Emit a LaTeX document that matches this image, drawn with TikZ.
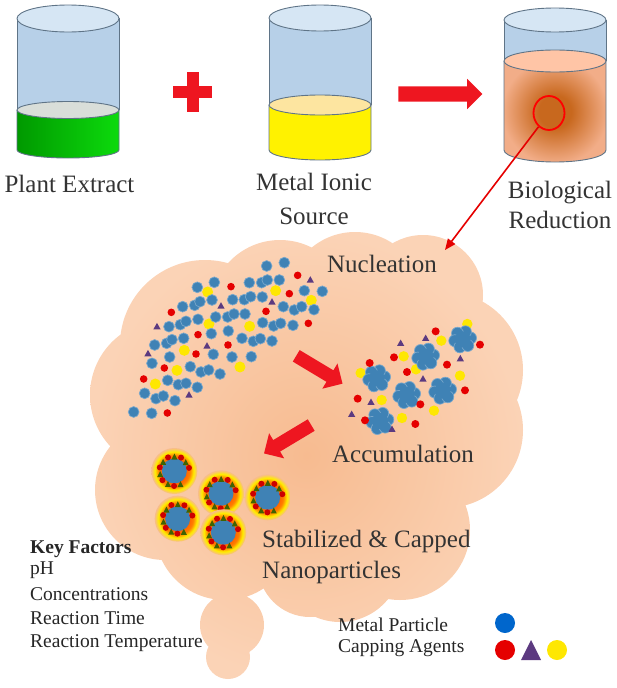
\documentclass[tikz,border=0pt]{standalone}
\usepackage{fontspec}
\setmainfont{Liberation Serif}
\usetikzlibrary{shapes.arrows,shapes.geometric,arrows.meta}

\definecolor{metalblue}{HTML}{3F82B5}
\definecolor{cloudin}{HTML}{F7BB90}
\definecolor{cloudout}{HTML}{FBD3B6}
\definecolor{glasscol}{HTML}{B7D0E8}
\definecolor{rimcol}{HTML}{D6E6F4}
\definecolor{edgecol}{HTML}{5F7487}
\definecolor{arrowred}{HTML}{EE1620}
\definecolor{trianglecol}{HTML}{5C3A80}
\definecolor{liquidin}{HTML}{C8681E}
\definecolor{liquidout}{HTML}{F2AD88}
\pgfdeclareradialshading{capglow}{\pgfpoint{0bp}{0bp}}{color(0bp)=(orange!80!red); color(13bp)=(orange!80!red); color(17bp)=(orange); color(21bp)=(yellow!85!orange); color(25bp)=(cloudin); color(50bp)=(cloudin)}
\pgfdeclareradialshading{liquidglow}{\pgfpoint{0bp}{0bp}}{color(0bp)=(liquidin); color(8bp)=(liquidin); color(26bp)=(liquidout); color(50bp)=(liquidout)}

\tikzset{
    label25/.style={font=\fontsize{25}{34}\selectfont, text=black!80, align=center, inner sep=0pt},
    label19/.style={font=\fontsize{19.5}{24}\selectfont, text=black!85, anchor=west, inner sep=0pt},
    glass/.style={fill=glasscol},
    rim/.style={draw=edgecol, line width=0.9pt, fill=rimcol},
    sideline/.style={draw=edgecol, line width=0.9pt},
    blockarrow/.style={single arrow, fill=arrowred, draw=none, inner xsep=0pt, minimum height=#1},
    metal/.style={fill=metalblue, draw=metalblue!70!white, line width=0.7pt},
    redp/.style={fill=red!90!black},
    yellowp/.style={fill=yellow!90!orange},
    purplep/.style={fill=trianglecol},
}

% particle macros
\newcommand{\tri}[3][purplep]{\fill[#1] (#2,#3) ++(0,3.8pt) -- ++(3.6pt,-6.4pt) -- ++(-7.2pt,0) -- cycle;}
\newcommand{\flower}[2]{
    \foreach \a in {0,60,...,300} {
        \fill[metal] (#1,#2) ++(\a+10:8pt) circle [radius=6pt];
    }
    \fill[metalblue] (#1,#2) circle [radius=8pt];
}
\newcommand{\capped}[2]{
    \shade[shading=capglow] (#1,#2) circle [radius=23pt];
    \fill[metalblue] (#1,#2) circle [radius=12.5pt];
    \foreach \a in {0,51.4,...,308} {
        \fill[red!80!black] (#1,#2) ++(\a+12:15pt) circle [radius=3pt];
        \fill[green!35!black!75!orange] (#1,#2) ++(\a+38:14.5pt) ++(0,3pt) -- ++(3pt,-6pt) -- ++(-6pt,0) -- cycle;
    }
}

\begin{document}
\begin{tikzpicture}[x=1pt, y=-1pt]
    \useasboundingbox (0,0) rectangle (617,688);

    % plant extract
    \fill[glass] (17,18) rectangle (119,110);
    \shade[left color=green!60!black, right color=green!85!black!95] (17,110) -- (17,150) arc [start angle=180, end angle=0, x radius=51, y radius=8] -- (119,110) -- cycle;
    \draw[sideline] (17,18) -- (17,110) (119,18) -- (119,110);
    \draw[sideline] (17,110) -- (17,150) arc [start angle=180, end angle=0, x radius=51, y radius=8] -- (119,110);
    \draw[sideline, fill=green!15!black!15!white] (68,110) ellipse [x radius=51, y radius=8.5];
    \draw[rim] (68,18.5) ellipse [x radius=51, y radius=13.5];

    % metal source
    \fill[glass] (269,18) rectangle (371,105);
    \fill[yellow] (269,105) -- (269,150) arc [start angle=180, end angle=0, x radius=51, y radius=10] -- (371,105) -- cycle;
    \draw[sideline] (269,18) -- (269,105) (371,18) -- (371,105);
    \draw[sideline] (269,105) -- (269,150) arc [start angle=180, end angle=0, x radius=51, y radius=10] -- (371,105);
    \draw[sideline, fill=yellow!50!orange!35!white] (320,105) ellipse [x radius=51, y radius=10];
    \draw[rim] (320,18) ellipse [x radius=51, y radius=13];

    % reduction
    \fill[glass] (504,20) rectangle (606,61);
    \shade[shading=liquidglow] (504,61) -- (504,150) arc [start angle=180, end angle=0, x radius=51, y radius=12] -- (606,61) -- cycle;
    \draw[sideline] (504,20) -- (504,61) (606,20) -- (606,61);
    \draw[sideline] (504,61) -- (504,150) arc [start angle=180, end angle=0, x radius=51, y radius=12] -- (606,61);
    \draw[sideline, fill=red!30!orange!35!white] (555,61) ellipse [x radius=51, y radius=11];
    \draw[rim] (555,20) ellipse [x radius=51, y radius=12];

    \node[draw=red, line width=1.8pt, ellipse, minimum width=31pt, minimum height=34pt, inner sep=0pt] (zoomring) at (549,113) {};

    % operators
    \fill[arrowred] (187,72) rectangle (199,112);
    \fill[arrowred] (173,86) rectangle (212,98);
    \node[blockarrow=84pt, inner ysep=7.5pt, minimum width=30pt, single arrow head extend=7.5pt] (mixarrow) at (436.5,94) {};

    % cloud
    \shade[inner color=cloudin, outer color=cloudout]
        (205,345) circle (85) (280,310) circle (70) (355,300) circle (68)
        (423,295) circle (60) (445,370) circle (78) (445,430) circle (78)
        (400,530) circle (70) (340,560) circle (62) (310,565) circle (52)
        (225,530) circle (70) (165,490) circle (70) (165,395) circle (75)
        (300,420) circle (120) (232,625) circle (32) (228,657) circle (22);

    \coordinate (cloudtop) at (445,250);
    \draw[red!90!black, line width=1.6pt, -{Triangle[length=11pt,width=9pt]}] (zoomring) -- (cloudtop);

    % nucleation
    \begin{scope}[shift={(110,240)}, x=0.3333pt, y=-0.3333pt]
        \foreach \x/\y in {293/156,497/152,604/181,297/252,419/259,223/331,390/381,201/391,136/432}
            \fill[yellowp] (\x,\y) circle [radius=5.5pt];
        \foreach \x/\y in {470/78,523/68,262/142,313/127,418/128,455/128,472/120,508/120,583/152,637/154,368/179,403/179,422/170,457/171,520/200,553/210,575/200,612/209,218/200,254/196,270/185,306/180,177/260,211/254,228/244,264/238,317/231,353/231,372/222,405/222,458/248,491/258,512/250,549/256,134/315,170/310,186/299,221/295,304/281,355/273,396/295,430/304,451/296,486/303,179/351,310/343,366/351,424/350,126/370,241/380,273/396,296/390,330/402,173/421,205/434,228/430,262/442,104/460,138/476,160/468,195/482,71/516,125/520}
            \fill[metal] (\x,\y) circle [radius=5.4pt];
        \foreach \x/\y in {563/106,363/140,538/161,468/214,184/217,595/250,264/284,354/315,258/342,163/384,101/417,172/519}
            \fill[redp] (\x,\y) circle [radius=3.8pt];
        \foreach \x/\y in {601/120,333/198,486/186,141/260,291/318,114/341,237/465} {
            \tri{\x}{\y}
        }
    \end{scope}

    % accumulation
    \begin{scope}[shift={(330,300)}, x=0.3333pt, y=-0.3333pt]
        \foreach \x/\y in {412/72,334/122,221/169,258/208,92/219,390/227,155/300,312/332,216/354}
            \fill[yellowp] (\x,\y) circle [radius=5.2pt];
        \foreach \x/\y in {140/235,287/170,398/118,230/285,338/272,150/363} {
            \flower{\x}{\y}
        }
        \foreach \x/\y in {317/94,450/134,192/172,351/194,119/189,231/216,405/271,83/296,271/313,105/361,256/372}
            \fill[redp] (\x,\y) circle [radius=4pt];
        \foreach \x/\y in {212/130,287/115,391/176,279/237,123/307,65/343,186/388} {
            \tri{\x}{\y}
        }
    \end{scope}

    % capped particles
    \begin{scope}[shift={(140,440)}, x=0.3333pt, y=-0.3333pt]
        \foreach \x/\y in {103/93,243/160,383/172,113/236,250/277} {
            \capped{\x}{\y}
        }
    \end{scope}

    \node[blockarrow=54pt, inner ysep=6.5pt, minimum width=29pt, single arrow head extend=8pt, rotate=-31] (stepone) at (316.5,368) {};
    \node[blockarrow=55pt, inner ysep=6.5pt, minimum width=29pt, single arrow head extend=8pt, rotate=211] (steptwo) at (290.5,437.5) {};

    % labels
    \node[label25] (plant) at (69.5,184) {Plant Extract};
    \node[label25] (source) at (314,199) {Metal Ionic\\Source};
    \node[label25] (biological) at (560,205) {Biological\\[-4pt]Reduction};
    \node[label25] (nucleation) at (382,264) {Nucleation};
    \node[label25] (accumulation) at (403,454) {Accumulation};
    \node[label25, align=left, anchor=north west] (stabilized) at (262,530) {Stabilized \& Capped\\[-3pt]Nanoparticles};

    \node[label19, font=\fontsize{19.5}{24}\selectfont\bfseries] (key) at (30,549) {Key Factors};
    \node[label19] (ph) at (30,570) {pH};
    \node[label19] (conc) at (30,594) {Concentrations};
    \node[label19] (rtime) at (30,618) {Reaction Time};
    \node[label19] (rtemp) at (30,643) {Reaction Temperature};

    % legend
    \node[label19] (metalname) at (338,625) {Metal Particle};
    \node[label19] (capname) at (338,648) {Capping Agents};
    \fill[fill=blue!50!cyan!80!black] (505,623) circle [radius=10];
    \fill[redp] (505,650) circle [radius=10];
    \fill[purplep] (531,640) -- (541,660) -- (521,660) -- cycle;
    \fill[yellowp] (557,650) circle [radius=10];
\end{tikzpicture}
\end{document}
